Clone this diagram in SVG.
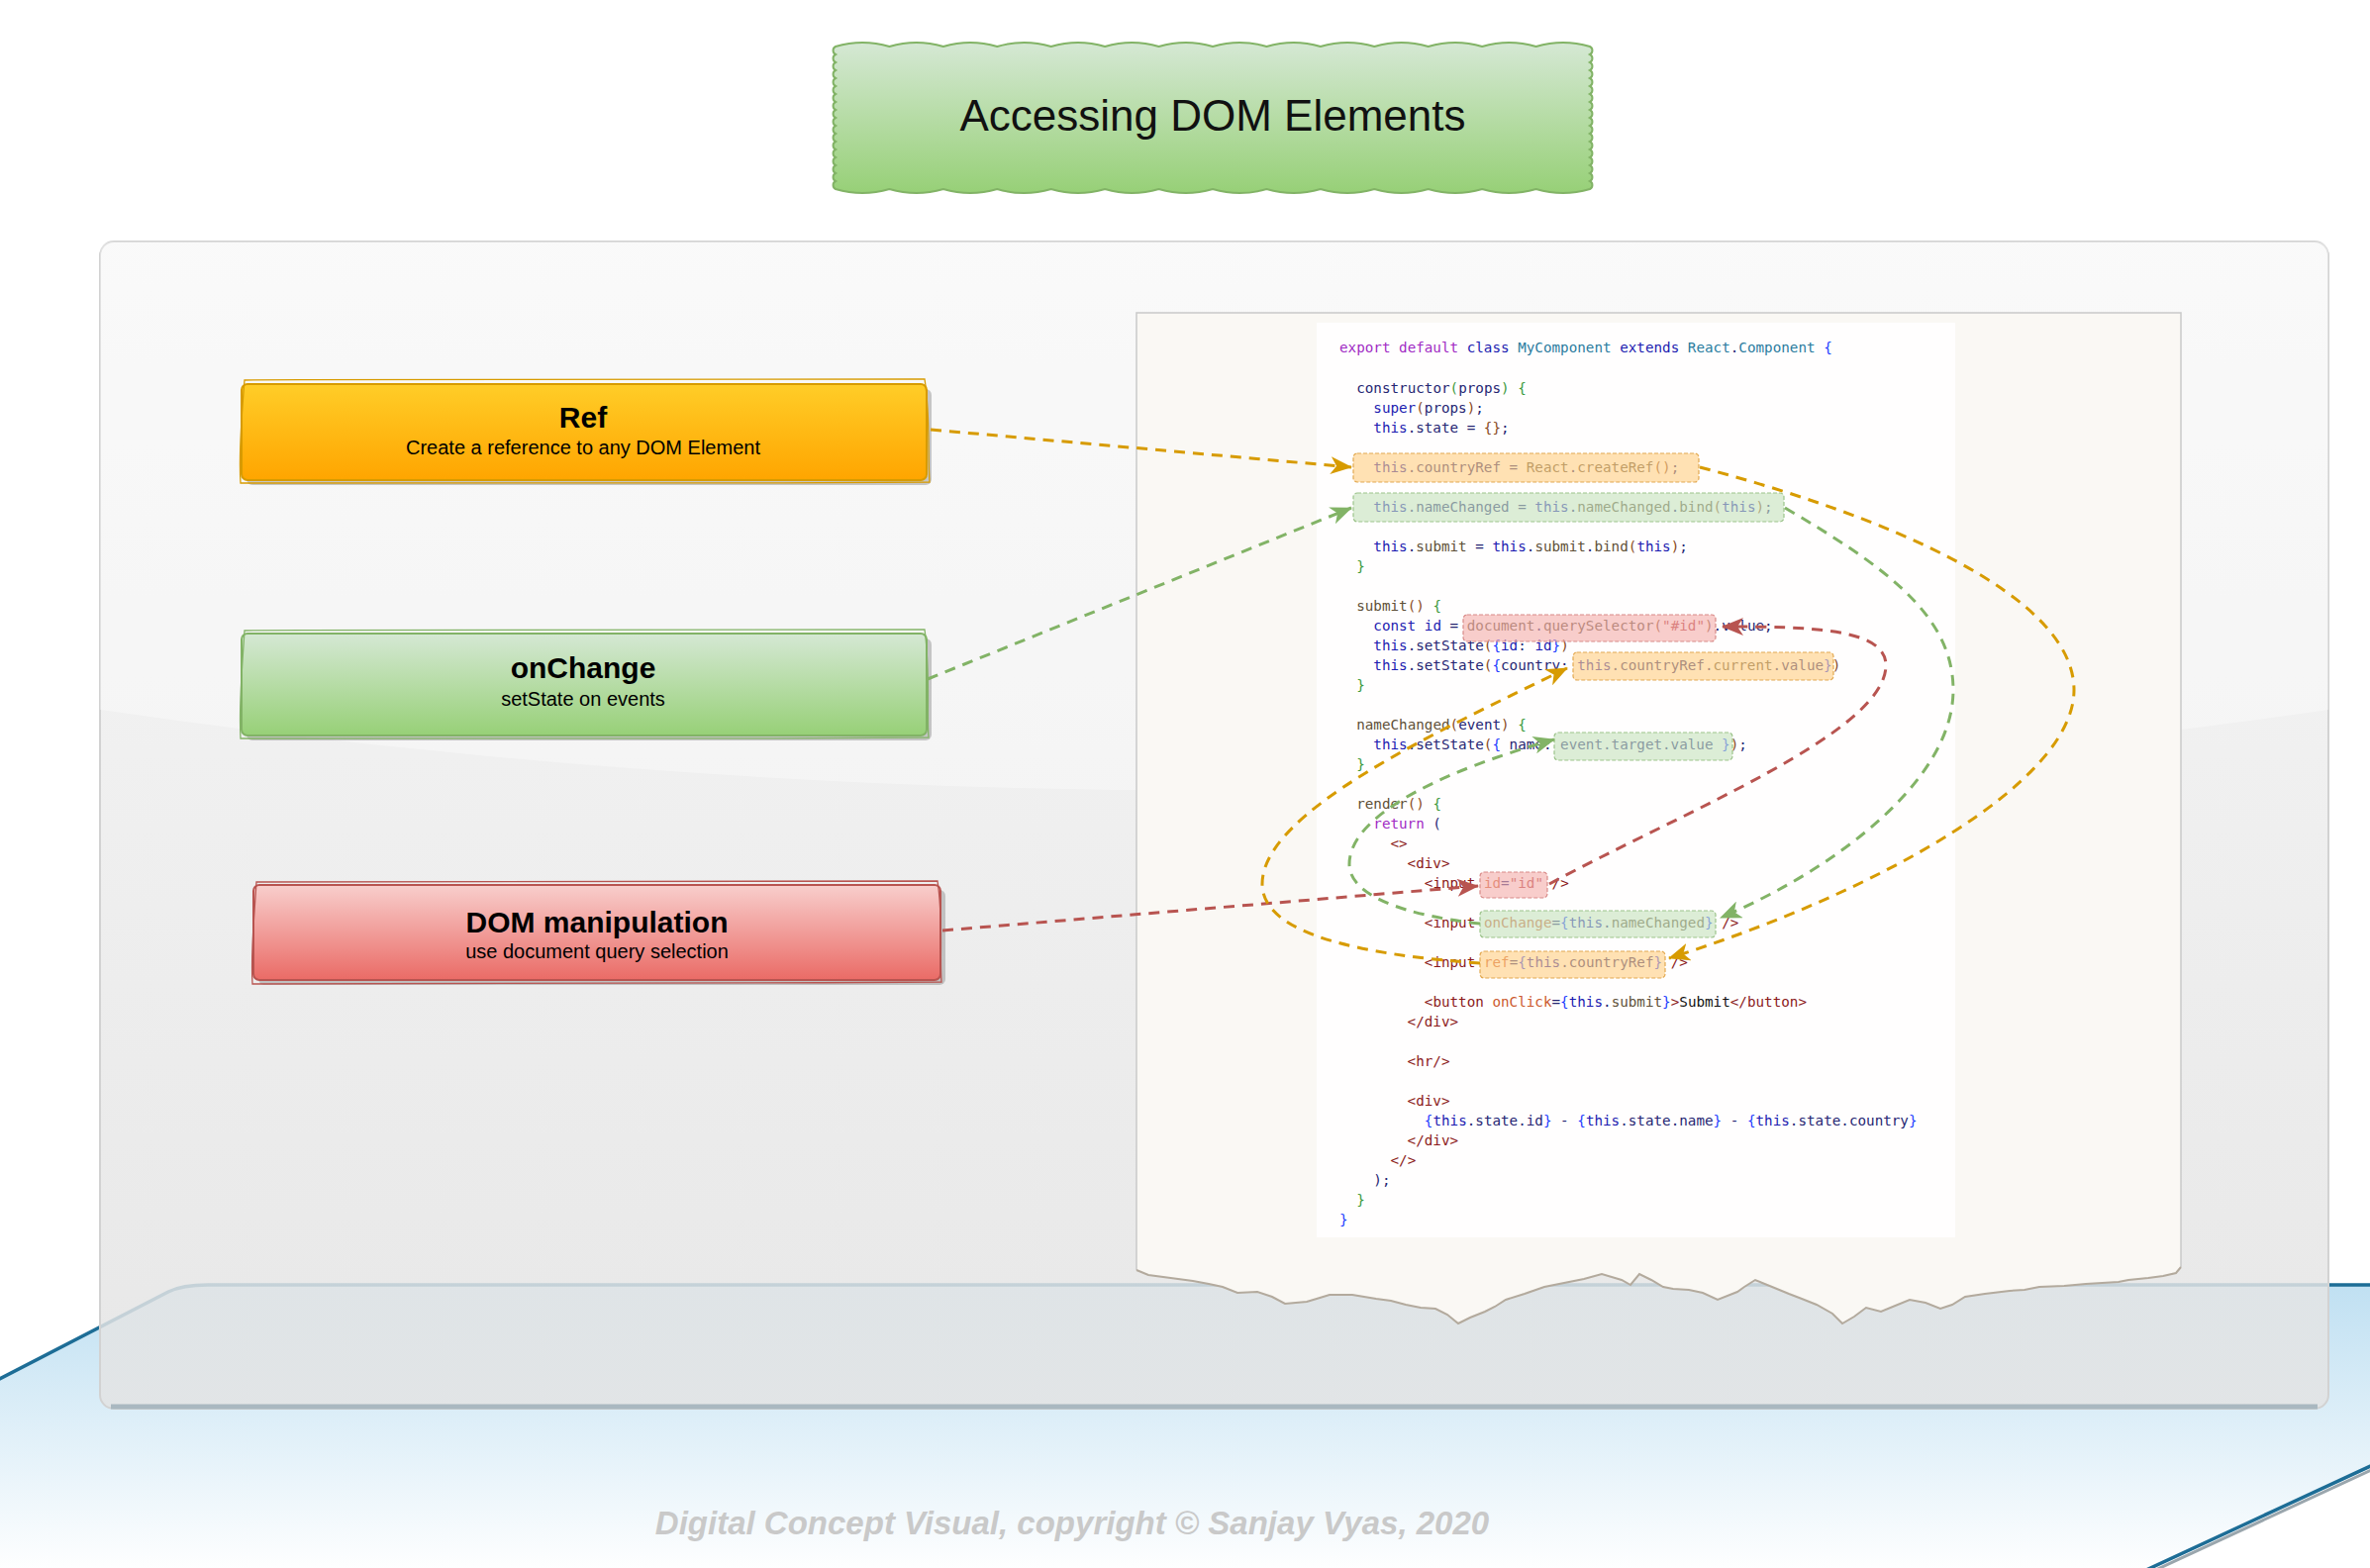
<svg xmlns="http://www.w3.org/2000/svg" width="2394" height="1584" viewBox="0 0 2394 1584">
<style>
.code{font-family:"DejaVu Sans Mono","Liberation Mono",monospace;font-size:14.25px;fill:#262673}
.k{fill:#1c1cb0}.p{fill:#a12bc4}.t{fill:#2b7c9e}.f{fill:#5e5038}.b1{fill:#1f3fff}.b2{fill:#3d9a3d}.b3{fill:#8a4b24}
.tg{fill:#8b1a1a}.at{fill:#cc5a2e}.s{fill:#b23b3b}.x{fill:#111111}
.hO{fill:#ffcf85;fill-opacity:.62;stroke:#e2a850;stroke-width:1.2;stroke-dasharray:4 2}
.hG{fill:#c6e2bd;fill-opacity:.62;stroke:#9cc38a;stroke-width:1.2;stroke-dasharray:4 2}
.hR{fill:#f4aeab;fill-opacity:.62;stroke:#d88a88;stroke-width:1.2;stroke-dasharray:4 2}
.ttl{font-family:"Liberation Sans",Arial,sans-serif;font-weight:bold;font-size:30px;fill:#000;text-anchor:middle}
.sub{font-family:"Liberation Sans",Arial,sans-serif;font-size:20px;fill:#000;text-anchor:middle}
.cn{fill:none;stroke-width:3;stroke-dasharray:11 8}
.cO{stroke:#d79b00}.cG{stroke:#82b366}.cR{stroke:#b85450}
</style>
<defs>
<linearGradient id="gTitle" x1="0" y1="0" x2="0" y2="1"><stop offset="0" stop-color="#d5e8d4"/><stop offset="1" stop-color="#97d077"/></linearGradient>
<linearGradient id="gRef" x1="0" y1="0" x2="0" y2="1"><stop offset="0" stop-color="#ffcd28"/><stop offset="1" stop-color="#ffa500"/></linearGradient>
<linearGradient id="gGreen" x1="0" y1="0" x2="0" y2="1"><stop offset="0" stop-color="#d5e8d4"/><stop offset="1" stop-color="#97d077"/></linearGradient>
<linearGradient id="gRed" x1="0" y1="0" x2="0" y2="1"><stop offset="0" stop-color="#f8cecc"/><stop offset="1" stop-color="#ea6b66"/></linearGradient>
<linearGradient id="gPanel" x1="0" y1="0" x2="0" y2="1"><stop offset="0" stop-color="#f5f5f5"/><stop offset="1" stop-color="#e3e3e3"/></linearGradient>
<linearGradient id="gBlue" gradientUnits="userSpaceOnUse" x1="0" y1="1298" x2="0" y2="1590"><stop offset="0" stop-color="#c0e0f2"/><stop offset="1" stop-color="#ffffff"/></linearGradient>
<marker id="aO" viewBox="0 0 22 18" markerWidth="22" markerHeight="18" refX="21" refY="9" orient="auto" markerUnits="userSpaceOnUse"><path d="M0,0 L22,9 L0,18 L6,9 Z" fill="#d79b00"/></marker>
<marker id="aG" viewBox="0 0 22 18" markerWidth="22" markerHeight="18" refX="21" refY="9" orient="auto" markerUnits="userSpaceOnUse"><path d="M0,0 L22,9 L0,18 L6,9 Z" fill="#82b366"/></marker>
<marker id="aR" viewBox="0 0 22 18" markerWidth="22" markerHeight="18" refX="21" refY="9" orient="auto" markerUnits="userSpaceOnUse"><path d="M0,0 L22,9 L0,18 L6,9 Z" fill="#b85450"/></marker>
</defs>

<rect width="2394" height="1584" fill="#ffffff"/>

<g id="background">
<path d="M2792,1301 L213,1301 Q187,1301 173,1308 L-397,1602 L2143,1602 Z" fill="none" stroke="#9aa6ad" stroke-width="3"/>
<path d="M2789,1298 L210,1298 Q184,1298 170,1305 L-400,1599 L2140,1599 Z" fill="url(#gBlue)" stroke="#1d6d96" stroke-width="3.5"/>
</g>

<g id="panel">
<rect x="101" y="244" width="2251" height="1179" rx="14" fill="url(#gPanel)" fill-opacity="0.84" stroke="#d2d2d2" stroke-width="2"/>
<path d="M115,244 L2338,244 Q2352,244 2352,258 L2352,717 Q1226,880 101,717 L101,258 Q101,244 115,244 Z" fill="#ffffff" fill-opacity="0.35"/>
<path d="M112,1421 L2341,1421" stroke="#a9b8c0" stroke-width="5" fill="none"/>
</g>

<g id="title">
<path d="M844,47 a95 95 0 0 1 54.43 0 a95 95 0 0 1 54.43 0 a95 95 0 0 1 54.43 0 a95 95 0 0 1 54.43 0 a95 95 0 0 1 54.43 0 a95 95 0 0 1 54.43 0 a95 95 0 0 1 54.43 0 a95 95 0 0 1 54.43 0 a95 95 0 0 1 54.43 0 a95 95 0 0 1 54.43 0 a95 95 0 0 1 54.43 0 a95 95 0 0 1 54.43 0 a95 95 0 0 1 54.43 0 a95 95 0 0 1 54.43 0 a4.5 4.5 0 0 1 0 8 a4.5 4.5 0 0 1 0 8 a4.5 4.5 0 0 1 0 8 a4.5 4.5 0 0 1 0 8 a4.5 4.5 0 0 1 0 8 a4.5 4.5 0 0 1 0 8 a4.5 4.5 0 0 1 0 8 a4.5 4.5 0 0 1 0 8 a4.5 4.5 0 0 1 0 8 a4.5 4.5 0 0 1 0 8 a4.5 4.5 0 0 1 0 8 a4.5 4.5 0 0 1 0 8 a4.5 4.5 0 0 1 0 8 a4.5 4.5 0 0 1 0 8 a4.5 4.5 0 0 1 0 8 a4.5 4.5 0 0 1 0 8 a4.5 4.5 0 0 1 0 8 a4.5 4.5 0 0 1 0 8 a95 95 0 0 1 -54.43 0 a95 95 0 0 1 -54.43 0 a95 95 0 0 1 -54.43 0 a95 95 0 0 1 -54.43 0 a95 95 0 0 1 -54.43 0 a95 95 0 0 1 -54.43 0 a95 95 0 0 1 -54.43 0 a95 95 0 0 1 -54.43 0 a95 95 0 0 1 -54.43 0 a95 95 0 0 1 -54.43 0 a95 95 0 0 1 -54.43 0 a95 95 0 0 1 -54.43 0 a95 95 0 0 1 -54.43 0 a95 95 0 0 1 -54.43 0 a4.5 4.5 0 0 1 0 -8 a4.5 4.5 0 0 1 0 -8 a4.5 4.5 0 0 1 0 -8 a4.5 4.5 0 0 1 0 -8 a4.5 4.5 0 0 1 0 -8 a4.5 4.5 0 0 1 0 -8 a4.5 4.5 0 0 1 0 -8 a4.5 4.5 0 0 1 0 -8 a4.5 4.5 0 0 1 0 -8 a4.5 4.5 0 0 1 0 -8 a4.5 4.5 0 0 1 0 -8 a4.5 4.5 0 0 1 0 -8 a4.5 4.5 0 0 1 0 -8 a4.5 4.5 0 0 1 0 -8 a4.5 4.5 0 0 1 0 -8 a4.5 4.5 0 0 1 0 -8 a4.5 4.5 0 0 1 0 -8 a4.5 4.5 0 0 1 0 -8 Z" fill="url(#gTitle)" stroke="#82b366" stroke-width="2"/>
<text x="1225" y="132" font-family="'Liberation Sans',Arial,sans-serif" font-size="44" fill="#111111" text-anchor="middle">Accessing DOM Elements</text>
</g>

<g id="paper">
<path d="M1148,316 L2203,316 L2203,1280 L2198,1286 L2185,1289 L2170,1291 L2150,1293 L2140,1295 L2107,1297 L2085,1299 L2060,1300 L2045,1303 L2030,1304 L2005,1307 L1985,1310 L1972,1318 L1960,1322 L1945,1316 L1929,1313 L1912,1320 L1900,1325 L1885,1321 L1873,1330 L1861,1337 L1851,1327 L1835,1318 L1820,1312 L1807,1307 L1790,1300 L1773,1293 L1762,1300 L1755,1305 L1735,1313 L1720,1306 L1706,1303 L1690,1302 L1680,1300 L1668,1293 L1656,1287 L1647,1298 L1638,1293 L1618,1287 L1600,1292 L1580,1296 L1560,1300 L1540,1307 L1521,1313 L1510,1320 L1500,1325 L1485,1331 L1473,1337 L1462,1328 L1450,1322 L1435,1321 L1420,1318 L1405,1314 L1390,1312 L1366,1308 L1343,1308 L1330,1312 L1320,1315 L1298,1317 L1285,1310 L1270,1305 L1250,1306 L1235,1300 L1221,1297 L1205,1294 L1190,1292 L1175,1290 L1160,1288 L1148,1283 Z" fill="#faf8f4"/>
<rect x="1330" y="326" width="645" height="924" fill="#ffffff" opacity="0.85"/>
<path d="M1148,1283 L1148,316 L2203,316 L2203,1280" fill="none" stroke="#c9c9c9" stroke-width="1.5"/>
<path d="M2203,1280 L2198,1286 L2185,1289 L2170,1291 L2150,1293 L2140,1295 L2107,1297 L2085,1299 L2060,1300 L2045,1303 L2030,1304 L2005,1307 L1985,1310 L1972,1318 L1960,1322 L1945,1316 L1929,1313 L1912,1320 L1900,1325 L1885,1321 L1873,1330 L1861,1337 L1851,1327 L1835,1318 L1820,1312 L1807,1307 L1790,1300 L1773,1293 L1762,1300 L1755,1305 L1735,1313 L1720,1306 L1706,1303 L1690,1302 L1680,1300 L1668,1293 L1656,1287 L1647,1298 L1638,1293 L1618,1287 L1600,1292 L1580,1296 L1560,1300 L1540,1307 L1521,1313 L1510,1320 L1500,1325 L1485,1331 L1473,1337 L1462,1328 L1450,1322 L1435,1321 L1420,1318 L1405,1314 L1390,1312 L1366,1308 L1343,1308 L1330,1312 L1320,1315 L1298,1317 L1285,1310 L1270,1305 L1250,1306 L1235,1300 L1221,1297 L1205,1294 L1190,1292 L1175,1290 L1160,1288 L1148,1283" fill="none" stroke="#b3aa9d" stroke-width="2"/>
</g>

<g id="code" class="code">
<text x="1353" y="356"><tspan class="p">export default</tspan> <tspan class="k">class</tspan> <tspan class="t">MyComponent</tspan> <tspan class="k">extends</tspan> <tspan class="t">React</tspan>.<tspan class="t">Component</tspan> <tspan class="b1">{</tspan></text>
<text x="1370.2" y="397">constructor<tspan class="b2">(</tspan>props<tspan class="b2">)</tspan> <tspan class="b2">{</tspan></text>
<text x="1387.3" y="417"><tspan class="k">super</tspan><tspan class="b3">(</tspan>props<tspan class="b3">)</tspan>;</text>
<text x="1387.3" y="437"><tspan class="k">this</tspan>.state = <tspan class="b3">{}</tspan>;</text>
<text x="1387.3" y="477"><tspan class="k">this</tspan>.countryRef = <tspan class="f">React</tspan>.<tspan class="f">createRef</tspan><tspan class="b3">()</tspan>;</text>
<text x="1387.3" y="517"><tspan class="k">this</tspan>.nameChanged = <tspan class="k">this</tspan>.<tspan class="f">nameChanged</tspan>.<tspan class="f">bind</tspan><tspan class="b3">(</tspan><tspan class="k">this</tspan><tspan class="b3">)</tspan>;</text>
<text x="1387.3" y="557"><tspan class="k">this</tspan>.<tspan class="f">submit</tspan> = <tspan class="k">this</tspan>.<tspan class="f">submit</tspan>.<tspan class="f">bind</tspan><tspan class="b3">(</tspan><tspan class="k">this</tspan><tspan class="b3">)</tspan>;</text>
<text x="1370.2" y="577"><tspan class="b2">}</tspan></text>
<text x="1370.2" y="617"><tspan class="f">submit</tspan><tspan class="b3">()</tspan> <tspan class="b2">{</tspan></text>
<text x="1387.3" y="637"><tspan class="k">const</tspan> <tspan class="k">id</tspan> = <tspan class="f">document</tspan>.<tspan class="f">querySelector</tspan><tspan class="b3">(</tspan><tspan class="s">"#id"</tspan><tspan class="b3">)</tspan>.value;</text>
<text x="1387.3" y="657"><tspan class="k">this</tspan>.setState<tspan class="b3">(</tspan><tspan class="b1">{</tspan><tspan class="k">id</tspan>: <tspan class="k">id</tspan><tspan class="b1">}</tspan><tspan class="b3">)</tspan></text>
<text x="1387.3" y="677"><tspan class="k">this</tspan>.setState<tspan class="b3">(</tspan><tspan class="b1">{</tspan>country: <tspan class="k">this</tspan>.countryRef.<tspan class="f">current</tspan>.value<tspan class="b1">}</tspan><tspan class="b3">)</tspan></text>
<text x="1370.2" y="697"><tspan class="b2">}</tspan></text>
<text x="1370.2" y="737"><tspan class="f">nameChanged</tspan><tspan class="b3">(</tspan>event<tspan class="b3">)</tspan> <tspan class="b2">{</tspan></text>
<text x="1387.3" y="757"><tspan class="k">this</tspan>.setState<tspan class="b3">(</tspan><tspan class="b1">{</tspan> name: event.target.value <tspan class="b1">}</tspan><tspan class="b3">)</tspan>;</text>
<text x="1370.2" y="777"><tspan class="b2">}</tspan></text>
<text x="1370.2" y="817"><tspan class="f">render</tspan><tspan class="b3">()</tspan> <tspan class="b2">{</tspan></text>
<text x="1387.3" y="837"><tspan class="p">return</tspan> (</text>
<text x="1404.5" y="857"><tspan class="tg">&lt;&gt;</tspan></text>
<text x="1421.6" y="877"><tspan class="tg">&lt;div&gt;</tspan></text>
<text x="1438.8" y="897"><tspan class="tg">&lt;input</tspan> <tspan class="at">id</tspan>=<tspan class="s">"id"</tspan> <tspan class="tg">/&gt;</tspan></text>
<text x="1438.8" y="937"><tspan class="tg">&lt;input</tspan> <tspan class="at">onChange</tspan>=<tspan class="b1">{</tspan><tspan class="k">this</tspan>.<tspan class="f">nameChanged</tspan><tspan class="b1">}</tspan> <tspan class="tg">/&gt;</tspan></text>
<text x="1438.8" y="977"><tspan class="tg">&lt;input</tspan> <tspan class="at">ref</tspan>=<tspan class="b1">{</tspan><tspan class="k">this</tspan>.countryRef<tspan class="b1">}</tspan> <tspan class="tg">/&gt;</tspan></text>
<text x="1438.8" y="1017"><tspan class="tg">&lt;button</tspan> <tspan class="at">onClick</tspan>=<tspan class="b1">{</tspan><tspan class="k">this</tspan>.<tspan class="f">submit</tspan><tspan class="b1">}</tspan><tspan class="tg">&gt;</tspan><tspan class="x">Submit</tspan><tspan class="tg">&lt;/button&gt;</tspan></text>
<text x="1421.6" y="1037"><tspan class="tg">&lt;/div&gt;</tspan></text>
<text x="1421.6" y="1077"><tspan class="tg">&lt;hr/&gt;</tspan></text>
<text x="1421.6" y="1117"><tspan class="tg">&lt;div&gt;</tspan></text>
<text x="1438.8" y="1137"><tspan class="b1">{</tspan><tspan class="k">this</tspan>.state.id<tspan class="b1">}</tspan> - <tspan class="b1">{</tspan><tspan class="k">this</tspan>.state.name<tspan class="b1">}</tspan> - <tspan class="b1">{</tspan><tspan class="k">this</tspan>.state.country<tspan class="b1">}</tspan></text>
<text x="1421.6" y="1157"><tspan class="tg">&lt;/div&gt;</tspan></text>
<text x="1404.5" y="1177"><tspan class="tg">&lt;/&gt;</tspan></text>
<text x="1387.3" y="1197">);</text>
<text x="1370.2" y="1217"><tspan class="b2">}</tspan></text>
<text x="1353" y="1237"><tspan class="b1">}</tspan></text>
</g>

<g id="highlights">
<rect id="hl-createRef" class="hO" x="1367" y="458" width="349" height="29" rx="4"/>
<rect id="hl-bind" class="hG" x="1367" y="498" width="435" height="29" rx="4"/>
<rect id="hl-query" class="hR" x="1478" y="621" width="255" height="27" rx="4"/>
<rect id="hl-current" class="hO" x="1589" y="659" width="263" height="28" rx="4"/>
<rect id="hl-target" class="hG" x="1570" y="740" width="180" height="28" rx="4"/>
<rect id="hl-id" class="hR" x="1495" y="881" width="68" height="26" rx="4"/>
<rect id="hl-onchange" class="hG" x="1495" y="920" width="238" height="27" rx="4"/>
<rect id="hl-ref" class="hO" x="1495" y="961" width="187" height="27" rx="4"/>
</g>

<g id="node-ref">
<rect x="249" y="393" width="692" height="97" rx="6" fill="#8a8a8a" opacity="0.45"/>
<rect x="244" y="388" width="692" height="97" rx="6" fill="url(#gRef)" stroke="#d79b00" stroke-width="2"/>
<path d="M247,384 C500,382 760,385 934,383 C940,420 937,460 939,487 C700,489 450,487 243,488 C241,460 244,420 247,384 Z" fill="none" stroke="#d79b00" stroke-width="1.3"/>
<text class="ttl" x="589" y="432">Ref</text>
<text class="sub" x="589" y="459">Create a reference to any DOM Element</text>
</g>

<g id="node-onchange">
<rect x="249" y="645" width="692" height="103" rx="6" fill="#8a8a8a" opacity="0.45"/>
<rect x="244" y="640" width="692" height="103" rx="6" fill="url(#gGreen)" stroke="#82b366" stroke-width="2"/>
<path d="M247,637 C500,635 760,638 934,636 C940,680 936,720 938,745 C700,747 450,746 243,746 C241,710 245,670 247,637 Z" fill="none" stroke="#82b366" stroke-width="1.3"/>
<text class="ttl" x="589" y="685">onChange</text>
<text class="sub" x="589" y="713">setState on events</text>
</g>

<g id="node-dom">
<rect x="261" y="899" width="694" height="96" rx="6" fill="#8a8a8a" opacity="0.45"/>
<rect x="256" y="894" width="694" height="96" rx="6" fill="url(#gRed)" stroke="#b85450" stroke-width="2"/>
<path d="M259,891 C520,889 780,892 947,890 C953,930 949,965 951,992 C710,994 460,993 255,994 C253,960 257,925 259,891 Z" fill="none" stroke="#b85450" stroke-width="1.3"/>
<text class="ttl" x="603" y="942">DOM manipulation</text>
<text class="sub" x="603" y="968">use document query selection</text>
</g>

<g id="connectors">
<path class="cn cO" d="M940,434 L1365,472" marker-end="url(#aO)"/>
<path class="cn cG" d="M937,686 L1365,513" marker-end="url(#aG)"/>
<path class="cn cR" d="M952,940 L1493,895" marker-end="url(#aR)"/>
<path class="cn cO" d="M1717,472 C1900,520 2095,600 2095,697 C2095,790 1900,900 1686,968" marker-end="url(#aO)"/>
<path class="cn cG" d="M1803,513 C1900,570 1973,620 1973,697 C1973,790 1850,880 1738,927" marker-end="url(#aG)"/>
<path class="cn cR" d="M1565,893 C1700,820 1905,740 1905,672 C1905,635 1830,633 1740,633" marker-end="url(#aR)"/>
<path class="cn cO" d="M1495,973 C1380,965 1275,945 1275,893 C1275,820 1450,740 1583,675" marker-end="url(#aO)"/>
<path class="cn cG" d="M1495,933 C1420,925 1363,905 1363,873 C1363,820 1470,775 1570,747" marker-end="url(#aG)"/>
</g>

<text id="footer" x="1083" y="1550" font-family="'Liberation Sans',Arial,sans-serif" font-weight="bold" font-style="italic" font-size="33" fill="#c9c9c9" text-anchor="middle">Digital Concept Visual, copyright © Sanjay Vyas, 2020</text>
</svg>
